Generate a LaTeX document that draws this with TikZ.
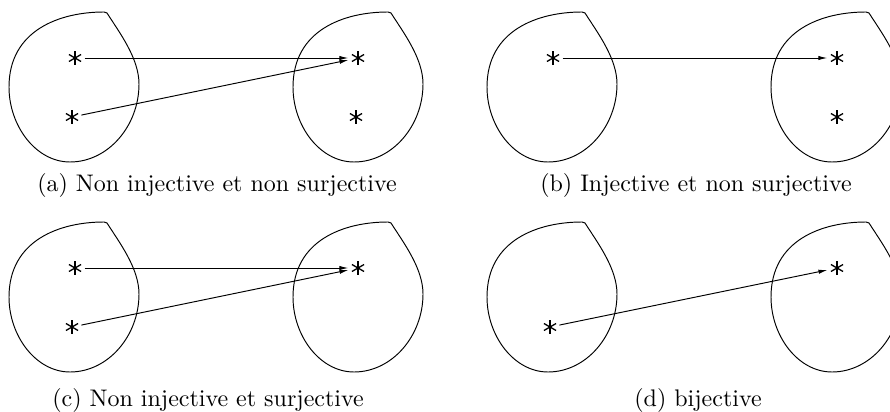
\documentclass[tikz,border=0pt]{standalone}
\usetikzlibrary{arrows.meta}
\tikzset{elt/.style={circle,minimum size=7.6pt,inner sep=0pt,
    path picture={\foreach \a in {90,30,-30}
      \draw[line width=0.55pt] (path picture bounding box.center) ++(\a:2.9pt) -- ++(\a+180:5.8pt);}},
  arrow/.style={-{Latex[length=3.8pt,width=1.8pt]},thin},
  legende/.style={anchor=base},
  ensemble/.pic={\draw[thin,line join=round] (107,13)
    .. controls (119,32) and (139,58) .. (139,84)
    .. controls (139,126) and (108,162) .. (70,162)
    .. controls (36,162) and (9,126) .. (9,87)
    .. controls (9,30) and (60,12) .. (104,12) .. controls (105,12) and (106,12) .. (107,13) -- cycle;}}

\begin{document}
\begin{tikzpicture}[x=0.4167pt,y=-0.4167pt]
\useasboundingbox (0,0) rectangle (890,412);
\clip (0,0) rectangle (890,412);
% (a) non injective, non surjective
\pic at (0,0) {ensemble};
\pic at (284,0) {ensemble};
\node[elt] (a1) at (75,58) {};
\node[elt] (a2) at (72,117) {};
\node[elt] (a3) at (358,58) {};
\node[elt] (a4) at (356,117) {};
\draw[arrow] (a1)--(a3);
\draw[arrow] (a2)--(a3);
\node[legende] (capa) at (217,191) {(a) Non injective et non surjective};
% (b) injective, non surjective
\pic at (478,0) {ensemble};
\pic at (762,0) {ensemble};
\node[elt] (b1) at (553,58) {};
\node[elt] (b3) at (837,58) {};
\node[elt] (b4) at (837,117) {};
\draw[arrow] (b1)--(b3);
\node[legende] (capb) at (696,191) {(b) Injective et non surjective};
% (c) non injective, surjective
\pic at (0,210) {ensemble};
\pic at (284,210) {ensemble};
\node[elt] (c1) at (75,268) {};
\node[elt] (c2) at (72,327) {};
\node[elt] (c3) at (358,268) {};
\draw[arrow] (c1)--(c3);
\draw[arrow] (c2)--(c3);
\node[legende] (capc) at (208,406) {(c) Non injective et surjective};
% (d) bijective
\pic at (478,210) {ensemble};
\pic at (762,210) {ensemble};
\node[elt] (d2) at (550,327) {};
\node[elt] (d3) at (837,268) {};
\draw[arrow] (d2)--(d3);
\node[legende] (capd) at (698,406) {(d) bijective};
\end{tikzpicture}
\end{document}
